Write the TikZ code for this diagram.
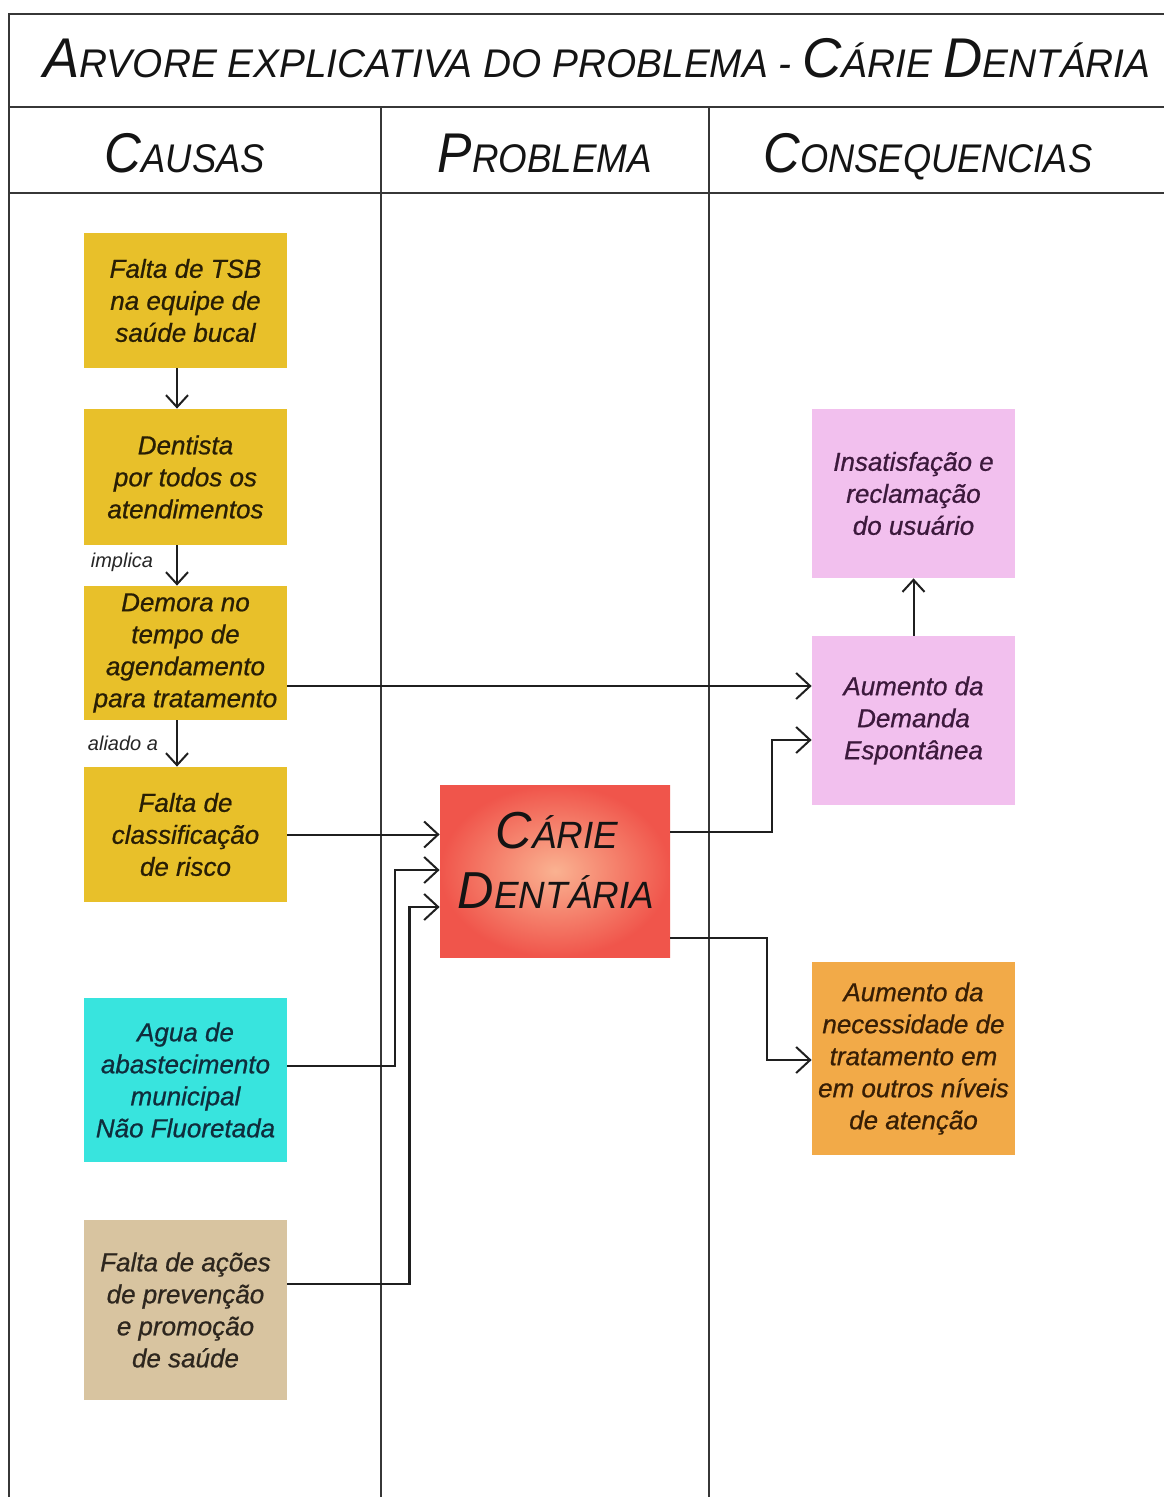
\documentclass[tikz,border=0pt]{standalone}
\usepackage{fontspec}
\setmainfont{Liberation Sans}
\newfontfamily\boxfont[FakeBold=0.7]{Liberation Sans}
\usepackage{graphicx}
\usetikzlibrary{arrows.meta,calc}
\definecolor{gold}{RGB}{232,192,42}
\definecolor{cyanbox}{RGB}{56,228,222}
\definecolor{tanbox}{RGB}{216,196,160}
\definecolor{pinkbox}{RGB}{242,192,238}
\definecolor{orangebox}{RGB}{242,170,72}
\definecolor{probin}{RGB}{250,178,145}
\definecolor{probout}{RGB}{240,85,75}
\definecolor{framec}{RGB}{55,55,55}
\definecolor{txtgold}{RGB}{40,30,5}
\definecolor{txtcyan}{RGB}{15,45,60}
\definecolor{txttan}{RGB}{45,38,30}
\definecolor{txtpink}{RGB}{60,25,60}
\definecolor{txtorange}{RGB}{55,30,5}
\newcommand\LgC[1]{{\fontsize{28}{28}\selectfont #1}}
\newcommand\SmC[1]{{\fontsize{20}{20}\selectfont #1}}
\newcommand\LgP[1]{{\fontsize{26}{26}\selectfont #1}}
\newcommand\SmP[1]{{\fontsize{19}{19}\selectfont #1}}
\begin{document}
\begin{tikzpicture}[x=0.5pt,y=-0.5pt,
  frame/.style={draw=framec,line width=1.2pt},
  arr/.style={draw=black!88,line width=1pt,-{Straight Barb[length=7pt,width=13pt,line width=1pt]}},
  varr/.style={draw=black!88,line width=1pt,-{Straight Barb[length=6pt,width=11pt,line width=1pt]}},
  box/.style={inner sep=0pt,minimum width=101.5pt,align=center,
    font=\boxfont\fontsize{13}{16}\selectfont\itshape},
  causa/.style={box,fill=gold,text=txtgold},
  small/.style={font=\fontsize{10}{12}\selectfont\itshape,text=black!85,inner sep=0pt},
  head/.style={anchor=base,text=black!92,font=\itshape,inner sep=0pt}]
\useasboundingbox (0,0) rectangle (1164,1497);
\fill[white] (0,0) rectangle (1164,1497);
% frame
\draw[frame] (9,1497) -- (9,14) -- (1164,14);
\draw[frame] (9,107) -- (1164,107);
\draw[frame] (9,193) -- (1164,193);
\draw[frame] (381,107) -- (381,1497);
\draw[frame] (709,107) -- (709,1497);
% title and headers
\node[head] (title) at (597,78) {\scalebox{0.97}[1]{\LgC{A}\SmC{RVORE EXPLICATIVA DO PROBLEMA - }\LgC{C}\SmC{ÁRIE }\LgC{D}\SmC{ENTÁRIA}}};
\node[head] (hcausas) at (185,173) {\scalebox{0.91}[1]{\LgC{C}\SmC{AUSAS}}};
\node[head] (hprob) at (545,173) {\scalebox{0.92}[1]{\LgC{P}\SmC{ROBLEMA}}};
\node[head] (hcons) at (928,173) {\scalebox{0.906}[1]{\LgC{C}\SmC{ONSEQUENCIAS}}};
% causes
\node[causa,minimum height=67.5pt] (c1) at (185.5,300.5) {Falta de TSB\\na equipe de\\saúde bucal};
\node[causa,minimum height=68pt] (c2) at (185.5,477) {Dentista\\por todos os\\atendimentos};
\node[causa,minimum height=67pt] (c3) at (185.5,653) {Demora no\\tempo de\\agendamento\\para tratamento};
\node[causa,minimum height=67.5pt] (c4) at (185.5,834.5) {Falta de\\classificação\\de risco};
\node[box,fill=cyanbox,text=txtcyan,minimum height=82pt] (c5) at (185.5,1080) {Agua de\\abastecimento\\municipal\\Não Fluoretada};
\node[box,fill=tanbox,text=txttan,minimum height=90pt] (c6) at (185.5,1310) {Falta de ações\\de prevenção\\e promoção\\de saúde};
% problem
\node[inner sep=0pt,minimum width=115pt,minimum height=86pt,shading=radial,inner color=probin,outer color=probout] (prob) at (555,871) {};
\node[head] (prob1) at (557,848) {\scalebox{0.97}[1]{\LgP{C}\SmP{ÁRIE}}};
\node[head] (prob2) at (556,908) {\scalebox{0.97}[1]{\LgP{D}\SmP{ENTÁRIA}}};
% consequences
\node[box,fill=pinkbox,text=txtpink,minimum height=84.5pt] (k1) at (913.5,493.5) {Insatisfação e\\reclamação\\do usuário};
\node[box,fill=pinkbox,text=txtpink,minimum height=84.5pt] (k2) at (913.5,720.5) {Aumento da\\Demanda\\Espontânea};
\node[box,fill=orangebox,text=txtorange,minimum height=96.5pt] (k3) at (913.5,1058.5) {Aumento da\\necessidade de\\tratamento em\\em outros níveis\\de atenção};
% small labels
\node[small] (limplica) at (122,562) {implica};
\node[small] (laliado) at (123,743) {aliado a};
% arrows within causes
\draw[varr] ([xshift=-4.25pt]c1.south) -- ([xshift=-4.25pt]c2.north);
\draw[varr] ([xshift=-4.25pt]c2.south) -- ([xshift=-4.25pt]c3.north);
\draw[varr] ([xshift=-4.25pt]c3.south) -- ([xshift=-4.25pt]c4.north);
% causes to problem
\draw[arr] (c4.east) -- (c4.east -| prob.west);
\draw[arr] ([yshift=7pt]c5.east) -| ($(prob.west)+(-45,-1)$) -- ($(prob.west)+(0,-1)$);
\draw[arr,line width=1.3pt] ([yshift=13pt]c6.east) -| ($(prob.west)+(-30,36)$) -- ($(prob.west)+(0,36)$);
% to consequences
\draw[arr] ([yshift=-16.5pt]c3.east) -- ([yshift=-16.5pt]c3.east -| k2.west);
\draw[arr] ([yshift=19.5pt]prob.east) -| ($(k2.west)+(-40,19.5)$) -- ($(k2.west)+(0,19.5)$);
\draw[arr] ([yshift=-33.5pt]prob.east) -| ($(k3.west)+(-45,1.5)$) -- ($(k3.west)+(0,1.5)$);
\draw[varr] (k2.north) -- (k1.south);
\end{tikzpicture}
\end{document}
